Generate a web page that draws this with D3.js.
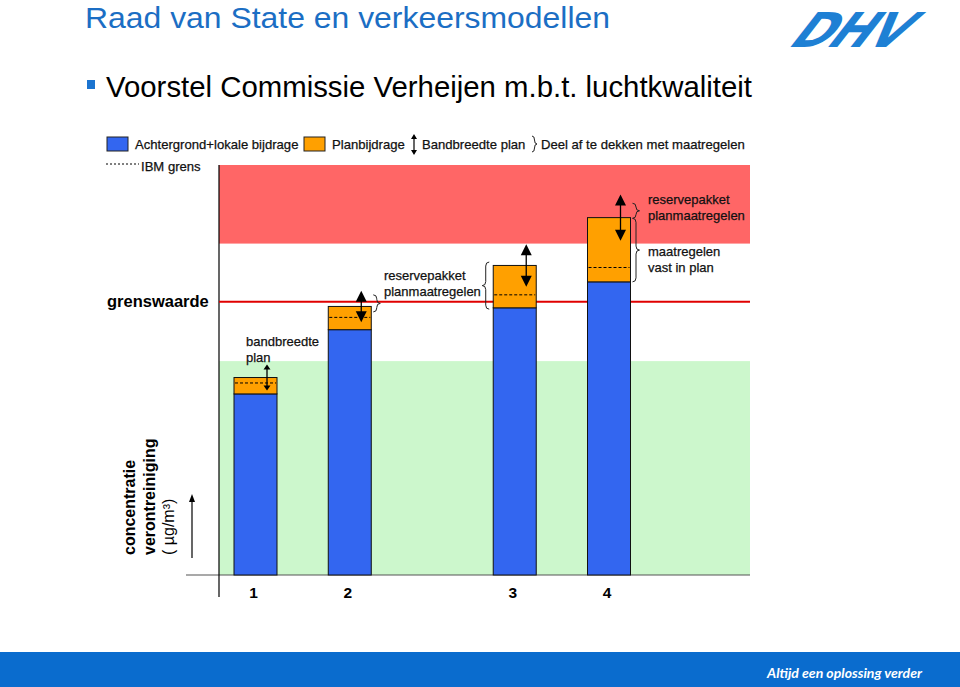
<!DOCTYPE html>
<html><head><meta charset="utf-8">
<script src="https://cdn.jsdelivr.net/npm/d3@7"></script>
<style>html,body{margin:0;padding:0;background:#fff;}svg{display:block;}</style>
</head><body>
<svg id="chart" width="960" height="687"></svg>
<script>
// ---------- DATA ----------
const categories = ["1", "2", "3", "4"];
const background = [26.5, 35.9, 39.1, 42.9];       // Achtergrond+lokale bijdrage
const planContribution = [2.4, 3.4, 6.2, 9.4];     // Planbijdrage
const ibmLimit = [28.1, 37.7, 41.0, 45.0];         // IBM grens (dashed)
const bandHalf = [1.9, 2.3, 3.1, 3.4];             // Bandbreedte plan (half width around top)
const limitValue = 40;                              // grenswaarde
const greenZoneTop = 31.3;
const redZone = [48.5, 60];
const braceSpans = [
  {bar: 1, from: 38.5, to: 41.0, side: 1},
  {bar: 2, from: 38.9, to: 45.8, side: -1},
  {bar: 3, from: 52.2, to: 54.4, side: 1},
  {bar: 3, from: 42.9, to: 52.2, side: 1}
];
const legendLabels = ["Achtergrond+lokale bijdrage", "Planbijdrage", "Bandbreedte plan", "Deel af te dekken met maatregelen", "IBM grens"];
const yAxisLabel = ["concentratie", "verontreiniging", "( µg/m³)"];

// ---------- LAYOUT ----------
const svg = d3.select("#chart");
const FONT = "'Liberation Sans', Arial, sans-serif";
const colBlue = "#3366f0", colOrange = "#ffa000", colRed = "#ff6666", colGreen = "#ccf7cc", colLine = "#e00000";
const slots = {"1": 0, "2": 4, "3": 11, "4": 15};
const xs = d3.scaleLinear().domain([0, 15]).range([255.5, 609]);
const y = d3.scaleLinear().domain([0, 60]).range([575, 165]);
const bw = 43;
const plotL = 219, plotR = 750;
const cx = i => xs(slots[categories[i]]);

// Title
svg.append("text").attr("x", 85).attr("y", 28).attr("font-family", FONT).attr("font-size", 30)
  .attr("textLength", 525).attr("lengthAdjust", "spacingAndGlyphs")
  .attr("fill", "#1b6ec4").text("Raad van State en verkeersmodellen");
svg.append("rect").attr("x", 87).attr("y", 80).attr("width", 8).attr("height", 9).attr("fill", "#1b74d0");
svg.append("text").attr("x", 106).attr("y", 97).attr("font-family", FONT).attr("font-size", 29.5)
  .attr("textLength", 646).attr("lengthAdjust", "spacingAndGlyphs")
  .attr("fill", "#000").text("Voorstel Commissie Verheijen m.b.t. luchtkwaliteit");

// Logo (approximate)
svg.append("text").attr("x", 0).attr("y", 0)
  .attr("transform", "translate(786,47) skewX(-38) scale(1.0,1)")
  .attr("font-family", "'DejaVu Sans', sans-serif").attr("font-weight", "bold").attr("font-size", 48)
  .attr("fill", "#1e80d4").attr("letter-spacing", -2).text("DHV");

// Footer
svg.append("rect").attr("x", 0).attr("y", 652).attr("width", 960).attr("height", 35).attr("fill", "#0a6cce");
svg.append("text").attr("x", 767).attr("y", 678).attr("font-family", "Lato, 'Open Sans', sans-serif")
  .attr("font-style", "italic").attr("font-weight", "bold").attr("font-size", 14)
  .attr("textLength", 155).attr("lengthAdjust", "spacingAndGlyphs")
  .attr("fill", "#fff").text("Altijd een oplossing verder");

// Zones
svg.append("rect").attr("x", plotL).attr("width", plotR - plotL)
  .attr("y", y(redZone[1])).attr("height", y(redZone[0]) - y(redZone[1])).attr("fill", colRed);
svg.append("rect").attr("x", plotL).attr("width", plotR - plotL)
  .attr("y", y(greenZoneTop)).attr("height", y(0) - y(greenZoneTop)).attr("fill", colGreen);

// Axes lines
svg.append("line").attr("x1", 186).attr("x2", plotR).attr("y1", y(0)).attr("y2", y(0))
  .attr("stroke", "#555").attr("stroke-width", 1.2);
svg.append("line").attr("x1", plotL).attr("x2", plotL).attr("y1", y(redZone[1])).attr("y2", 597)
  .attr("stroke", "#000").attr("stroke-width", 1.2);

// Limit line
svg.append("line").attr("x1", plotL).attr("x2", plotR).attr("y1", y(limitValue)).attr("y2", y(limitValue))
  .attr("stroke", colLine).attr("stroke-width", 2);
svg.append("text").attr("x", 107).attr("y", y(limitValue) + 5.5).attr("font-family", FONT)
  .attr("font-weight", "bold").attr("font-size", 16.5).text("grenswaarde");

// Bars
const g = svg.append("g");
categories.forEach((c, i) => {
  const x0 = cx(i) - bw / 2;
  const top = background[i] + planContribution[i];
  g.append("rect").attr("x", x0).attr("width", bw).attr("y", y(background[i]))
    .attr("height", y(0) - y(background[i])).attr("fill", colBlue).attr("stroke", "#111").attr("stroke-width", 1);
  g.append("rect").attr("x", x0).attr("width", bw).attr("y", y(top))
    .attr("height", y(background[i]) - y(top)).attr("fill", colOrange).attr("stroke", "#111").attr("stroke-width", 1);
  g.append("line").attr("x1", x0 + 1).attr("x2", x0 + bw - 1).attr("y1", y(ibmLimit[i])).attr("y2", y(ibmLimit[i]))
    .attr("stroke", "#000").attr("stroke-width", 1).attr("stroke-dasharray", "3,2");
  // bandwidth arrow
  const ax = cx(i) + 11.5;
  const yt = y(top + bandHalf[i]), yb = y(top - bandHalf[i]);
  const hs = i === 0 ? 3.5 : 5.5, hl = i === 0 ? 5 : 11;
  g.append("line").attr("x1", ax).attr("x2", ax).attr("y1", yt + hl - 1).attr("y2", yb - hl + 1)
    .attr("stroke", "#000").attr("stroke-width", 1.3);
  g.append("path").attr("d", `M${ax},${yt} L${ax - hs},${yt + hl} L${ax + hs},${yt + hl} Z`).attr("fill", "#000");
  g.append("path").attr("d", `M${ax},${yb} L${ax - hs},${yb - hl} L${ax + hs},${yb - hl} Z`).attr("fill", "#000");
  // category label
  svg.append("text").attr("x", cx(i) - 2).attr("y", 598).attr("text-anchor", "middle")
    .attr("font-family", FONT).attr("font-weight", "bold").attr("font-size", 15.5).text(c);
});

// Braces
function bracePath(x, y1, y2, w, dir) {
  const ym = (y1 + y2) / 2, r = Math.min(4, (y2 - y1) / 4);
  const xm = x + dir * w / 2, xt = x + dir * w;
  return `M${x},${y1} Q${xm},${y1} ${xm},${y1 + r} L${xm},${ym - r} Q${xm},${ym} ${xt},${ym}` +
         ` Q${xm},${ym} ${xm},${ym + r} L${xm},${y2 - r} Q${xm},${y2} ${x},${y2}`;
}
braceSpans.forEach(b => {
  const edge = b.side > 0 ? cx(b.bar) + bw / 2 + 2 : cx(b.bar) - bw / 2 - 4;
  svg.append("path").attr("d", bracePath(edge, y(b.to), y(b.from), 7, b.side))
    .attr("fill", "none").attr("stroke", "#222").attr("stroke-width", 1);
});

// Annotation texts
function label(x, yc, lines) {
  lines.forEach((t, k) => svg.append("text").attr("x", x).attr("y", yc + k * 16 + 4.5)
    .attr("font-family", FONT).attr("font-size", 13).attr("fill", "#111")
    .attr("stroke", "#111").attr("stroke-width", 0.25).text(t));
}
label(246, 341, ["bandbreedte", "plan"]);
label(384, 275, ["reservepakket", "planmaatregelen"]);
label(648, 199, ["reservepakket", "planmaatregelen"]);
label(648, 251, ["maatregelen", "vast in plan"]);

// Legend
const lg = svg.append("g").attr("font-family", FONT).attr("font-size", 13.1).attr("fill", "#111");
lg.append("rect").attr("x", 107).attr("y", 137).attr("width", 21).attr("height", 14).attr("fill", colBlue).attr("stroke", "#222");
lg.append("rect").attr("x", 304).attr("y", 137).attr("width", 21).attr("height", 14).attr("fill", colOrange).attr("stroke", "#222");
lg.append("line").attr("x1", 414).attr("x2", 414).attr("y1", 138).attr("y2", 151).attr("stroke", "#000").attr("stroke-width", 1.2);
lg.append("path").attr("d", "M414,134 L411,139 L417,139 Z M414,155 L411,150 L417,150 Z").attr("fill", "#000");
lg.append("path").attr("d", bracePath(532, 136, 152, 5, 1)).attr("fill", "none").attr("stroke", "#222");
lg.append("line").attr("x1", 106).attr("x2", 139).attr("y1", 164).attr("y2", 164).attr("stroke", "#000").attr("stroke-dasharray", "2,2");
[[135, 149], [332, 149], [422, 149], [541, 149], [141, 171]].forEach(([lx, ly], k) => {
  lg.append("text").attr("x", lx).attr("y", ly).attr("stroke", "#111").attr("stroke-width", 0.25).text(legendLabels[k]);
});

// Y-axis label
const yl = svg.append("g").attr("font-family", FONT);
[[135, true], [155, true], [174, false]].forEach(([bx, bold], k) => {
  yl.append("text").attr("transform", `translate(${bx},555) rotate(-90)`)
    .attr("font-size", 16).attr("font-weight", bold ? "bold" : "normal").text(yAxisLabel[k]);
});
svg.append("line").attr("x1", 192).attr("x2", 192).attr("y1", 558).attr("y2", 500).attr("stroke", "#000").attr("stroke-width", 1.2);
svg.append("path").attr("d", "M192,494 L189,502 L195,502 Z").attr("fill", "#000");
</script>
</body></html>
